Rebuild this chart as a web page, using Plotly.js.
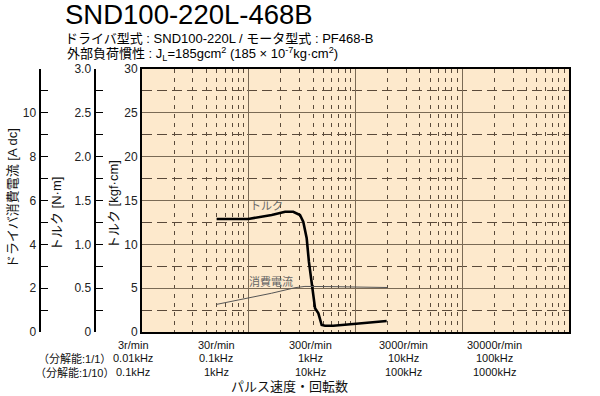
<!DOCTYPE html>
<html><head><meta charset="utf-8">
<script src="https://cdn.plot.ly/plotly-3.0.1.min.js"></script>
<style>html,body{margin:0;padding:0;background:#fff;}</style>
</head><body><div id="chart" style="width:600px;height:396px;"></div>
<script>
// --- data (pulse rate in kHz at resolution 1/1) ---
const torqueKHz = [0.050, 0.099, 0.164, 0.219, 0.261, 0.302, 0.324, 0.349, 0.366, 0.387, 0.403, 0.418, 0.449, 0.482, 0.518, 0.619, 0.953, 1.96];
const torqueKgfcm = [12.89, 12.89, 13.35, 13.72, 13.72, 13.35, 12.58, 10.69, 8.02, 5.7, 4.03, 2.70, 2.13, 0.80, 0.72, 0.72, 0.91, 1.25];
const currentKHz = [0.050, 0.099, 0.164, 0.271, 0.336, 0.6, 1.0, 2.0];
const currentA = [1.26, 1.54, 1.77, 2.02, 2.08, 2.07, 2.06, 2.03];

const speedLabels = ['3r/min', '30r/min', '300r/min', '3000r/min', '30000r/min'];
const freqLabels11 = ['0.01kHz', '0.1kHz', '1kHz', '10kHz', '100kHz'];
const freqLabels110 = ['0.1kHz', '1kHz', '10kHz', '100kHz', '1000kHz'];
const resLabels = ['（分解能:1/1）', '（分解能:1/10）'];

const kgfTicks = [0, 5, 10, 15, 20, 25, 30];
const kgfMinor = [2.5, 7.5, 12.5, 17.5, 22.5, 27.5];
const nmTicks = [0, 0.5, 1.0, 1.5, 2.0, 2.5, 3.0];
const nmTickText = ['0', '0.5', '1.0', '1.5', '2.0', '2.5', '3.0'];
const nmMinor = [0.25, 0.75, 1.25, 1.75, 2.25, 2.75];
const aTicks = [0, 2, 4, 6, 8, 10, 12];
const aTickText = ['0', '2', '4', '6', '8', '10', ''];
const aMinor = [1, 3, 5, 7, 9, 11];
const xDecades = [0.01, 0.1, 1, 10, 100];
const xMinor = [];
[0.01, 0.1, 1, 10].forEach(d => { for (let k = 2; k <= 9; k++) xMinor.push(+(d * k).toPrecision(3)); });

// --- layout helpers (pixel -> paper) ---
const W = 600, H = 396, ML = 0, MR = 31, MT = 69, MB = 64;
const PW = W - ML - MR, PH = H - MT - MB;
const px = x => (x - ML) / PW;
const py = y => (H - MB - y) / PH;

const FONT = 'Liberation Sans, Arial, Noto Sans CJK JP, sans-serif';
const gridCol = '#7a6a55';

const traces = [
  {x: torqueKHz, y: torqueKgfcm, type: 'scatter', mode: 'lines', line: {color: '#000', width: 2.6}, xaxis: 'x', yaxis: 'y', hoverinfo: 'skip'},
  {x: currentKHz, y: currentA, type: 'scatter', mode: 'lines', line: {color: '#555', width: 1}, xaxis: 'x', yaxis: 'y3', hoverinfo: 'skip'},
  {x: [], y: [], type: 'scatter', mode: 'lines', xaxis: 'x', yaxis: 'y2', hoverinfo: 'skip'}
];

const annotations = [];
function ann(text, x, y, size, opts) {
  annotations.push(Object.assign({text: text, xref: 'paper', yref: 'paper', x: px(x), y: py(y),
    xanchor: 'center', yanchor: 'middle', showarrow: false, font: {family: FONT, size: size, color: '#111'}}, opts || {}));
}
// titles
ann('SND100-220L-468B', 63, 14, 27.5, {xanchor: 'left', font: {family: FONT, size: 27.5, color: '#000'}});
ann('ドライバ型式 : SND100-220L / モータ型式 : PF468-B', 63, 38, 13, {xanchor: 'left', font: {family: FONT, size: 13, color: '#000'}});
ann('外部負荷慣性 : J<sub>L</sub>=185gcm<sup>2</sup> (185 × 10<sup>-7</sup>kg·cm<sup>2</sup>)', 65, 54, 13, {xanchor: 'left', font: {family: FONT, size: 13, color: '#000'}});
// x labels
const colX = [133, 216, 310, 403, 494];
speedLabels.forEach((t, i) => ann(t, colX[i], 345, 11));
freqLabels11.forEach((t, i) => ann(t, colX[i], 358, 11));
freqLabels110.forEach((t, i) => ann(t, colX[i], 372, 11));
ann(resLabels[0], 113, 358, 11, {xanchor: 'right'});
ann(resLabels[1], 116, 372, 11, {xanchor: 'right'});
ann('パルス速度・回転数', 289, 386, 13);
// y titles
ann('ドライバ消費電流 [A dc]', 12, 198, 13, {textangle: -90});
ann('トルク [N·m]', 57, 214, 13, {textangle: -90});
ann('トルク [kgf·cm]', 113, 205, 13, {textangle: -90});
// curve labels
ann('トルク', 266, 206, 11, {font: {family: FONT, size: 11, color: '#666'}});
ann('消費電流', 271, 281, 11, {font: {family: FONT, size: 11, color: '#666'}});

const layout = {
  width: W, height: H,
  margin: {l: ML, r: MR, t: MT, b: MB, pad: 0},
  paper_bgcolor: '#fff', plot_bgcolor: '#fde9cc',
  showlegend: false,
  font: {family: FONT, size: 12, color: '#222'},
  xaxis: {
    type: 'log', range: [-2, 2], domain: [(142 - ML) / PW, 1],
    tickmode: 'array', tickvals: xDecades, showticklabels: false, ticks: '',
    showgrid: true, gridcolor: gridCol, gridwidth: 1,
    minor: {tickmode: 'array', tickvals: xMinor, showgrid: true, gridcolor: '#5a4a3a', griddash: '4px,5px', gridwidth: 1, ticks: ''},
    showline: true, mirror: true, linecolor: '#000', linewidth: 2, zeroline: false, fixedrange: true
  },
  yaxis: {
    range: [0, 30], tickmode: 'array', tickvals: kgfTicks, ticks: '',
    showgrid: true, gridcolor: gridCol, gridwidth: 1,
    minor: {tickmode: 'array', tickvals: kgfMinor, showgrid: true, gridcolor: '#5a4a3a', griddash: '10px,5px', gridwidth: 1, ticks: ''},
    showline: true, mirror: true, linecolor: '#000', linewidth: 2, zeroline: false,
    tickfont: {family: FONT, size: 12, color: '#222'}, fixedrange: true
  },
  yaxis2: {
    range: [0, 3], overlaying: 'y', anchor: 'free', side: 'left', position: (94.5 - ML) / PW,
    tickmode: 'array', tickvals: nmTicks, ticktext: nmTickText, ticks: 'inside', ticklen: 7, tickwidth: 1, tickcolor: '#000',
    minor: {tickmode: 'array', tickvals: nmMinor, ticks: 'inside', ticklen: 7, tickwidth: 1, tickcolor: '#000', showgrid: false},
    showgrid: false, zeroline: false, showline: true, linecolor: '#000', linewidth: 2,
    tickfont: {family: FONT, size: 12, color: '#222'}, fixedrange: true
  },
  yaxis3: {
    range: [0, 12], overlaying: 'y', anchor: 'free', side: 'left', position: (39.5 - ML) / PW,
    tickmode: 'array', tickvals: aTicks, ticktext: aTickText, ticks: 'inside', ticklen: 7, tickwidth: 1, tickcolor: '#000',
    minor: {tickmode: 'array', tickvals: aMinor, ticks: 'inside', ticklen: 7, tickwidth: 1, tickcolor: '#000', showgrid: false},
    showgrid: false, zeroline: false, showline: true, linecolor: '#000', linewidth: 2,
    tickfont: {family: FONT, size: 12, color: '#222'}, fixedrange: true
  },
  annotations: annotations
};

Plotly.newPlot('chart', traces, layout, {staticPlot: true, displayModeBar: false});
</script></body></html>
